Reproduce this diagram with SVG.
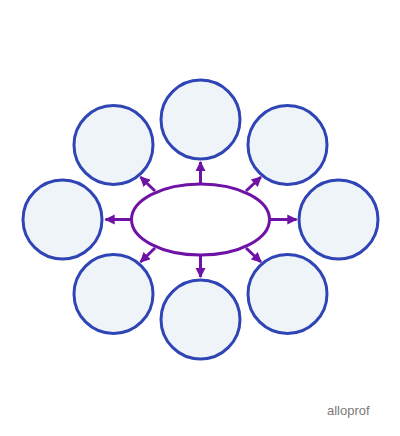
<svg xmlns="http://www.w3.org/2000/svg" width="400" height="436" viewBox="0 0 400 436">
<style>
.n{fill:#eff4f9;stroke:#2f45b5;stroke-width:3}
.c{fill:none;stroke:#6f12a6;stroke-width:3}
.logo{font-family:"Liberation Sans",Arial,sans-serif;font-size:13px;fill:#7a7a7a}
</style>
<defs>
<marker id="ah" viewBox="0 0 10 10" refX="9" refY="5" markerWidth="3.6" markerHeight="3.4" orient="auto" markerUnits="strokeWidth">
<path d="M0,0L10,5L0,10Z" fill="#6f12a6"/>
</marker>
</defs>
<rect width="400" height="436" fill="#fff"/>
<g id="connectors">
<line class="c" x1="200.5" y1="183" x2="200.5" y2="162" marker-end="url(#ah)"/>
<line class="c" x1="200.5" y1="256" x2="200.5" y2="277" marker-end="url(#ah)"/>
<line class="c" x1="270" y1="219.5" x2="296.5" y2="219.5" marker-end="url(#ah)"/>
<line class="c" x1="131" y1="219.5" x2="105.5" y2="219.5" marker-end="url(#ah)"/>
<line class="c" x1="246" y1="191" x2="261" y2="177" marker-end="url(#ah)"/>
<line class="c" x1="155" y1="191" x2="140.5" y2="177" marker-end="url(#ah)"/>
<line class="c" x1="155" y1="248" x2="140.5" y2="262" marker-end="url(#ah)"/>
<line class="c" x1="246" y1="248" x2="261" y2="262" marker-end="url(#ah)"/>
</g>
<g id="center"><ellipse cx="200.5" cy="219.5" rx="69" ry="35.5" fill="#fff" stroke="#6f12a6" stroke-width="3"/></g>
<g id="n-top"><circle class="n" cx="200.5" cy="119.5" r="39.5"/></g>
<g id="n-topleft"><circle class="n" cx="113.5" cy="145" r="39.5"/></g>
<g id="n-topright"><circle class="n" cx="287.5" cy="145" r="39.5"/></g>
<g id="n-left"><circle class="n" cx="62.5" cy="219.5" r="39.5"/></g>
<g id="n-right"><circle class="n" cx="338.5" cy="219.5" r="39.5"/></g>
<g id="n-bottomleft"><circle class="n" cx="113.5" cy="294" r="39.5"/></g>
<g id="n-bottom"><circle class="n" cx="200.5" cy="319.5" r="39.5"/></g>
<g id="n-bottomright"><circle class="n" cx="287.5" cy="294" r="39.5"/></g>
<text class="logo" x="327" y="415">alloprof</text>
</svg>
